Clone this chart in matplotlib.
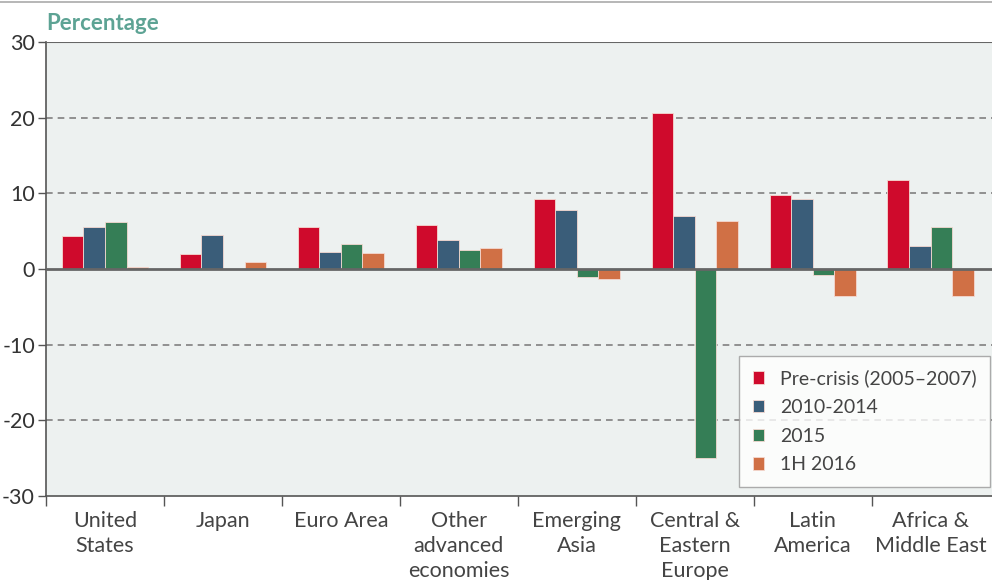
import numpy as np
import matplotlib.pyplot as plt
from matplotlib.lines import Line2D

plt.rcParams['font.family'] = ['Lato', 'DejaVu Sans']

categories = ['United\nStates', 'Japan', 'Euro Area', 'Other\nadvanced\neconomies',
              'Emerging\nAsia', 'Central &\nEastern\nEurope', 'Latin\nAmerica',
              'Africa &\nMiddle East']
series_names = ['Pre-crisis (2005\u20132007)', '2010-2014', '2015', '1H 2016']
pre_crisis = [4.3, 2.0, 5.5, 5.8, 9.3, 20.6, 9.8, 11.7]
y2010_2014 = [5.5, 4.5, 2.2, 3.8, 7.8, 7.0, 9.3, 3.1]
y2015 = [6.2, 0.0, 3.3, 2.5, -1.0, -25.0, -0.8, 5.5]
h1_2016 = [0.3, 0.9, 2.1, 2.8, -1.3, 6.4, -3.6, -3.6]
colors = ['#CF0A2C', '#3A5D79', '#357E56', '#D07045']

fig = plt.figure(figsize=(9.92, 5.8), dpi=100)
ax = fig.add_axes([0.0464, 0.145, 0.9536, 0.7825])
ax.set_facecolor('#EDF1F0')

x = np.arange(len(categories))
w = 0.183
for i, (vals, c, name) in enumerate(zip([pre_crisis, y2010_2014, y2015, h1_2016], colors, series_names)):
    ax.bar(x + (i - 1.5) * w, vals, width=w, color=c, edgecolor='#f4d8d0', linewidth=0.6,
           label=name, zorder=3)

ax.set_xlim(-0.5, 7.52)
ax.set_ylim(-30, 30)
ax.set_yticks([-30, -20, -10, 0, 10, 20, 30])
ax.set_yticklabels(['-30', '-20', '-10', '0', '10', '20', '30'])
for yv in [-20, -10, 10, 20]:
    ax.axhline(yv, color='#808080', linestyle=(0, (4, 3)), linewidth=1.2, zorder=1)
ax.axhline(0, color='#666666', linewidth=2, zorder=4)

ax.set_xticks(x)
ax.set_xticklabels(categories, fontsize=15.5, color='#444444', linespacing=1.3)
ax.set_xticks(np.arange(-0.5, 7.5, 1.0), minor=True)
ax.tick_params(axis='x', which='major', length=0, pad=11)
ax.tick_params(axis='x', which='minor', length=7, color='#555555', width=1)
ax.tick_params(axis='y', length=6, color='#555555', width=1, labelsize=15.5,
               labelcolor='#333333', pad=2)

for s in ['top', 'right']:
    ax.spines[s].set_visible(False)
ax.spines['left'].set_color('#555555')
ax.spines['left'].set_linewidth(1.2)
ax.spines['bottom'].set_color('#555555')
ax.spines['bottom'].set_linewidth(1.2)
ax.axhline(30, color='#666666', linewidth=1.5, zorder=4)

leg = ax.legend(loc='lower right', bbox_to_anchor=(0.998, 0.02), borderaxespad=0,
                fontsize=14, frameon=True, fancybox=False, handlelength=0.6,
                handleheight=0.6, handletextpad=0.8, labelspacing=0.6, borderpad=0.7,
                labelcolor='#444444')
leg.get_frame().set_edgecolor('#999999')
leg.get_frame().set_linewidth(1)
leg.set_zorder(5)

fig.text(0.0464, 0.96, 'Percentage', fontsize=16, fontweight='bold', color='#5DA394',
         ha='left', va='center')
fig.add_artist(Line2D([0, 1], [0.996, 0.996], color='#AAAAAA', linewidth=1.2))

fig.savefig('out.png', dpi=100)
